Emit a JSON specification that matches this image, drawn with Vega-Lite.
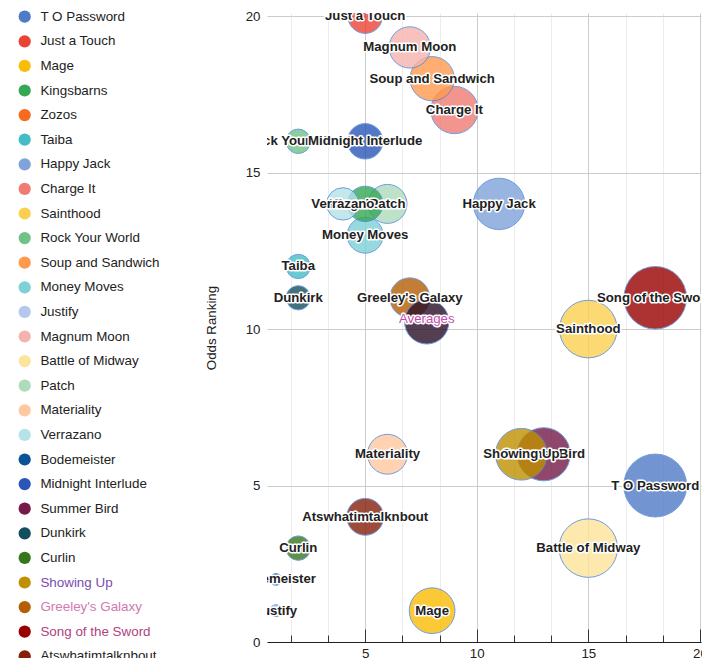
{
  "$schema": "https://vega.github.io/schema/vega-lite/v6.json",
  "autosize": {"type": "none"},
  "padding": {"left": 267, "top": 13, "right": 1, "bottom": 16},
  "width": 434,
  "height": 629,
  "background": "white",
  "config": {
    "font": "Liberation Sans",
    "view": {"stroke": null}
  },
  "data": {
    "values": [
      {"horse": "Zozos", "odds": 22, "rank": 8, "size": 20},
      {"horse": "T O Password", "odds": 18, "rank": 5, "size": 35.5},
      {"horse": "Song of the Sword", "odds": 18, "rank": 11, "size": 35.3},
      {"horse": "Battle of Midway", "odds": 15, "rank": 3, "size": 33},
      {"horse": "Sainthood", "odds": 15, "rank": 10, "size": 32.5},
      {"horse": "Summer Bird", "odds": 13, "rank": 6, "size": 30},
      {"horse": "Showing Up", "odds": 12, "rank": 6, "size": 29.2},
      {"horse": "Happy Jack", "odds": 11, "rank": 14, "size": 29},
      {"horse": "Charge It", "odds": 9, "rank": 17, "size": 26.7},
      {"horse": "Mage", "odds": 8, "rank": 1, "size": 25.8},
      {"horse": "Soup and Sandwich", "odds": 8, "rank": 18, "size": 25},
      {"horse": "Magnum Moon", "odds": 7, "rank": 19, "size": 23.3},
      {"horse": "Materiality", "odds": 6, "rank": 6, "size": 22.5},
      {"horse": "Greeley's Galaxy", "odds": 7, "rank": 11, "size": 22.5},
      {"horse": "Patch", "odds": 6, "rank": 14, "size": 22},
      {"horse": "Atswhatimtalknbout", "odds": 5, "rank": 4, "size": 20.8},
      {"horse": "Money Moves", "odds": 5, "rank": 13, "size": 20.3},
      {"horse": "Kingsbarns", "odds": 5, "rank": 14, "size": 20},
      {"horse": "Midnight Interlude", "odds": 5, "rank": 16, "size": 20},
      {"horse": "Just a Touch", "odds": 5, "rank": 20, "size": 19.5},
      {"horse": "Verrazano", "odds": 4, "rank": 14, "size": 18.3},
      {"horse": "Rock Your World", "odds": 2, "rank": 16, "size": 13.8},
      {"horse": "Curlin", "odds": 2, "rank": 3, "size": 13.8},
      {"horse": "Taiba", "odds": 2, "rank": 12, "size": 13.7},
      {"horse": "Dunkirk", "odds": 2, "rank": 11, "size": 13.7},
      {"horse": "Justify", "odds": 1, "rank": 1, "size": 6.7},
      {"horse": "Bodemeister", "odds": 1, "rank": 2, "size": 6.7},
      {"horse": "Averages", "odds": 7.76, "rank": 10.23, "size": 25}
    ]
  },
  "encoding": {
    "x": {
      "field": "odds",
      "type": "quantitative",
      "scale": {"domain": [0.6, 20.05], "nice": false, "zero": false},
      "axis": {
        "title": null,
        "values": [1.6667, 3.3333, 5, 6.6667, 8.3333, 10, 11.6667, 13.3333, 15, 16.6667, 18.3333, 20],
        "grid": true,
        "gridColor": {"condition": {"test": "abs(datum.value/5 - round(datum.value/5)) < 0.01", "value": "#cccccc"}, "value": "#ececec"},
        "domainColor": "#222222",
        "tickColor": "#333333",
        "tickSize": {"condition": {"test": "abs(datum.value/5 - round(datum.value/5)) < 0.01", "value": -13}, "value": -7},
        "labelExpr": "abs(datum.value/5 - round(datum.value/5)) < 0.01 ? format(datum.value, 'd') : ''",
        "labelFontSize": 13.3,
        "labelColor": "#222222",
        "labelPadding": 17,
        "labelFlush": false,
        "labelOverlap": false
      }
    },
    "y": {
      "field": "rank",
      "type": "quantitative",
      "scale": {"domain": [0, 20.1], "nice": false, "zero": false},
      "axis": {
        "title": "Odds Ranking",
        "values": [0, 5, 10, 15, 20],
        "grid": true,
        "gridColor": "#cccccc",
        "domain": false,
        "ticks": false,
        "labelPadding": 7,
        "labelFontSize": 13.3,
        "labelColor": "#222222",
        "titleFontSize": 13.3,
        "titleFontWeight": "normal",
        "titleColor": "#222222",
        "titlePadding": 27
      }
    }
  },
  "layer": [
    {
      "mark": {"type": "point", "filled": true, "opacity": 0.8, "stroke": "#4d86d9", "strokeWidth": 1, "strokeOpacity": 1, "clip": true},
      "encoding": {
        "color": {
          "field": "horse",
          "type": "nominal",
          "scale": {
            "domain": ["T O Password", "Just a Touch", "Mage", "Kingsbarns", "Zozos", "Taiba", "Happy Jack", "Charge It", "Sainthood", "Rock Your World", "Soup and Sandwich", "Money Moves", "Justify", "Magnum Moon", "Battle of Midway", "Patch", "Materiality", "Verrazano", "Bodemeister", "Midnight Interlude", "Summer Bird", "Dunkirk", "Curlin", "Showing Up", "Greeley's Galaxy", "Song of the Sword", "Atswhatimtalknbout", "Averages"],
            "range": ["#4f7ac6", "#ea4335", "#fbbc05", "#34a853", "#fa6a1e", "#46bdc6", "#7fa3da", "#f07b72", "#fcd04f", "#71c287", "#ff994d", "#7ed1d7", "#b3c8ea", "#f6b3ae", "#fde49b", "#aedcba", "#ffc8a0", "#b5e3e8", "#0b5394", "#2a56b8", "#741b47", "#134f5c", "#38761d", "#bf9000", "#b45f06", "#990000", "#85200c", "#2a0f28"]
          },
          "legend": {
            "title": null,
            "orient": "none",
            "legendX": -249,
            "legendY": -3,
            "padding": 0,
            "symbolType": "circle",
            "symbolSize": 150,
            "symbolOpacity": 1,
            "symbolStrokeWidth": 0,
            "labelFontSize": 13.4,
            "labelColor": {"expr": "datum.label === 'Showing Up' ? '#7a4db0' : indexof(datum.label, 'Greeley') >= 0 ? '#d07ab0' : datum.label === 'Song of the Sword' ? '#b2427e' : '#222222'"},
            "labelOffset": 9,
            "rowPadding": 9.6,
            "labelLimit": 200
          }
        },
        "size": {
          "field": "size",
          "type": "quantitative",
          "scale": {"type": "pow", "exponent": 2, "domain": [0, 35.5], "range": [0, 3959]},
          "legend": null
        }
      }
    },
    {
      "transform": [{"filter": "indexof(['Verrazano','Patch','Showing Up','Midnight Interlude','Soup and Sandwich','Averages'], datum.horse) < 0"}],
      "mark": {"type": "text", "fontSize": 13.2, "fontWeight": "bold", "fill": "white", "stroke": "white", "strokeWidth": 3, "strokeJoin": "round", "clip": true},
      "encoding": {"text": {"field": "horse"}}
    },
    {
      "transform": [{"filter": "indexof(['Verrazano','Patch','Showing Up','Midnight Interlude','Soup and Sandwich','Averages'], datum.horse) < 0"}],
      "mark": {"type": "text", "fontSize": 13.2, "fontWeight": "bold", "fill": "#222222", "clip": true},
      "encoding": {"text": {"field": "horse"}}
    },
    {
      "transform": [{"filter": "indexof(['Patch','Showing Up','Midnight Interlude','Soup and Sandwich'], datum.horse) >= 0"}],
      "mark": {"type": "text", "fontSize": 13.2, "fontWeight": "bold", "fill": "white", "stroke": "white", "strokeWidth": 3, "strokeJoin": "round", "clip": true},
      "encoding": {"text": {"field": "horse"}}
    },
    {
      "transform": [{"filter": "indexof(['Patch','Showing Up','Midnight Interlude','Soup and Sandwich'], datum.horse) >= 0"}],
      "mark": {"type": "text", "fontSize": 13.2, "fontWeight": "bold", "fill": "#222222", "clip": true},
      "encoding": {"text": {"field": "horse"}}
    },
    {
      "transform": [{"filter": "datum.horse === 'Verrazano'"}],
      "mark": {"type": "text", "fontSize": 13.2, "fontWeight": "bold", "fill": "white", "stroke": "white", "strokeWidth": 3, "strokeJoin": "round", "clip": true},
      "encoding": {"text": {"field": "horse"}}
    },
    {
      "transform": [{"filter": "datum.horse === 'Verrazano'"}],
      "mark": {"type": "text", "fontSize": 13.2, "fontWeight": "bold", "fill": "#222222", "clip": true},
      "encoding": {"text": {"field": "horse"}}
    },
    {
      "transform": [{"filter": "datum.horse === 'Averages'"}],
      "mark": {"type": "text", "fontSize": 13.2, "fontWeight": "normal", "dy": -3, "fill": "white", "stroke": "white", "strokeWidth": 3, "strokeJoin": "round", "clip": true},
      "encoding": {"text": {"field": "horse"}}
    },
    {
      "transform": [{"filter": "datum.horse === 'Averages'"}],
      "mark": {"type": "text", "fontSize": 13.2, "fontWeight": "normal", "dy": -3, "fill": "#c44cae", "clip": true},
      "encoding": {"text": {"field": "horse"}}
    }
  ]
}
